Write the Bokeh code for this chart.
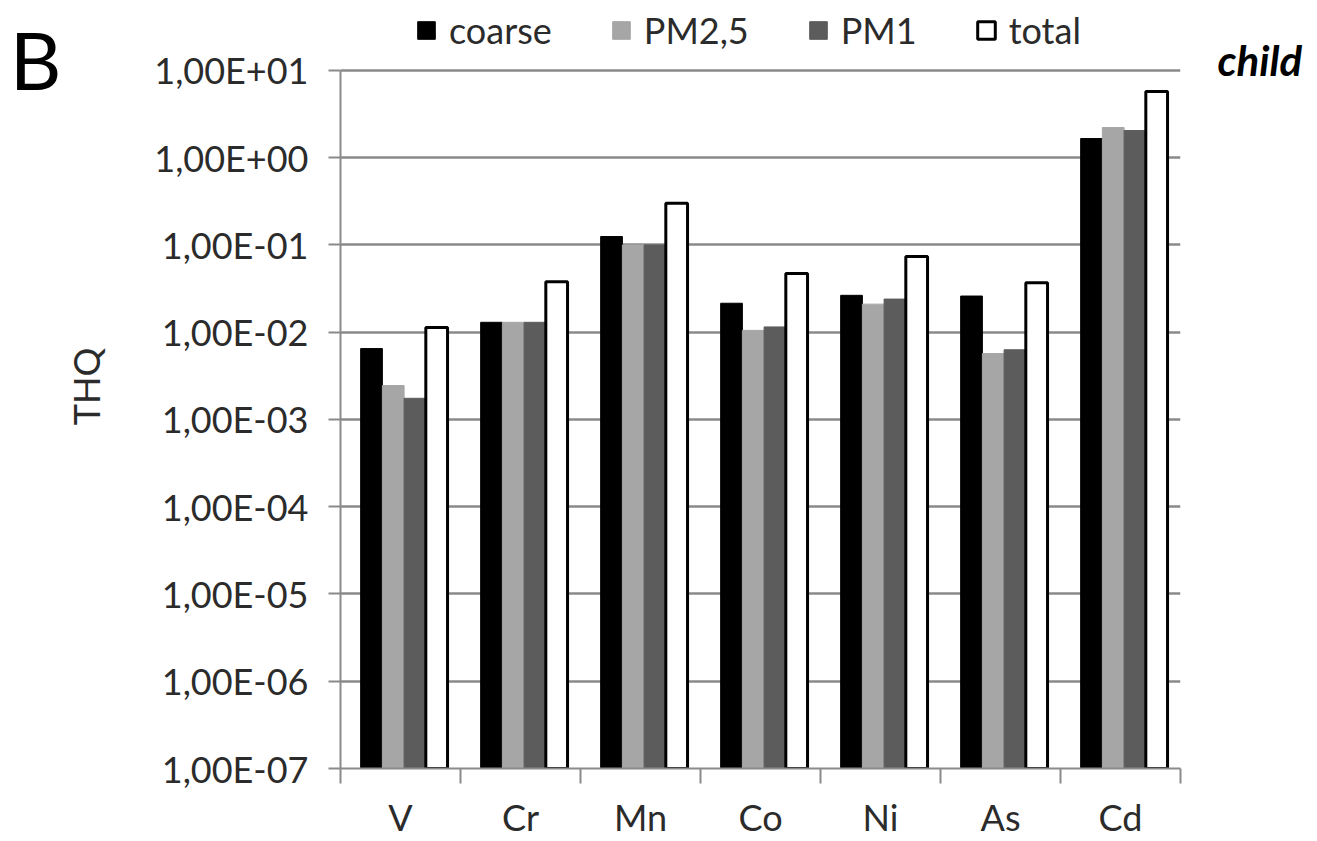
from bokeh.plotting import figure
from bokeh.models import (Range1d, FixedTicker, CustomJSTickFormatter, Legend,
                          LegendItem, ColumnDataSource, LinearAxis)
from bokeh.transform import dodge
from bokeh.embed import file_html
from bokeh.resources import INLINE

categories = ["V", "Cr", "Mn", "Co", "Ni", "As", "Cd"]
series_names = ["coarse", "PM2,5", "PM1", "total"]
coarse = [6.5e-3, 1.3e-2, 1.25e-1, 2.15e-2, 2.65e-2, 2.6e-2, 1.66]
pm25 = [2.45e-3, 1.3e-2, 1.0e-1, 1.05e-2, 2.1e-2, 5.7e-3, 2.22]
pm1 = [1.75e-3, 1.3e-2, 1.0e-1, 1.15e-2, 2.4e-2, 6.3e-3, 2.05]
total = [1.13e-2, 3.8e-2, 0.30, 4.7e-2, 7.4e-2, 3.7e-2, 5.75]
decades = [10.0 ** k for k in range(-7, 2)]
panel_letter = "B"
panel_note = "child"

FONT = "Lato"
AXIS_GREY = "#8a8a8a"
TEXT = "#2b2b2b"

# the frame reaches above the 1e1 gridline so that the legend row fits inside it
y_top = 57.07
p = figure(width=1317, height=841, y_axis_type="log",
           x_range=Range1d(0, len(categories)), y_range=Range1d(1e-7, y_top),
           output_backend="svg", toolbar_location=None,
           min_border_left=340, min_border_right=137,
           min_border_top=4, min_border_bottom=73)
p.outline_line_color = None
p.background_fill_color = "white"

bw = 0.181
center = 0.53
offsets = [-1.5 * bw, -0.5 * bw, 0.5 * bw, 1.5 * bw]
src = ColumnDataSource(dict(idx=list(range(len(categories))), coarse=coarse,
                            pm25=pm25, pm1=pm1, total=total))
styles = [("coarse", "black", "black", 1),
          ("pm25", "#a6a6a6", "#a6a6a6", 1),
          ("pm1", "#5c5c5c", "#5c5c5c", 1),
          ("total", "white", "black", 3)]
renderers = []
for (col, fc, lc, lw), off in zip(styles, offsets):
    r = p.vbar(x=dodge("idx", center + off), top=col, bottom=1e-7, width=bw,
               source=src, fill_color=fc, line_color=lc, line_width=lw)
    renderers.append(r)

# grid
p.xgrid.visible = False
p.ygrid.ticker = FixedTicker(ticks=decades)
p.ygrid.grid_line_color = AXIS_GREY
p.ygrid.grid_line_width = 2.5

# y axis
ya = p.yaxis[0]
ya.bounds = (decades[0], decades[-1])
ya.ticker = FixedTicker(ticks=decades, minor_ticks=[])
ya.formatter = CustomJSTickFormatter(code="""
const e = Math.round(Math.log10(tick));
const a = Math.abs(e);
return '1,00E' + (e < 0 ? '-' : '+') + (a < 10 ? '0' : '') + a;
""")
ya.axis_line_color = AXIS_GREY
ya.axis_line_width = 2
ya.major_tick_line_color = AXIS_GREY
ya.major_tick_line_width = 2
ya.major_tick_out = 12
ya.major_tick_in = 0
ya.major_label_standoff = 20
ya.major_label_text_font = FONT
ya.major_label_text_font_size = "36px"
ya.major_label_text_color = TEXT
ya.axis_label = "THQ"
ya.axis_label_text_font = FONT
ya.axis_label_text_font_size = "36px"
ya.axis_label_text_font_style = "normal"
ya.axis_label_text_color = TEXT
ya.axis_label_standoff = 43

# x axis
xa = p.xaxis[0]
xa.ticker = FixedTicker(ticks=[i + 0.5 for i in range(len(categories))],
                        minor_ticks=list(range(len(categories) + 1)))
xa.major_label_overrides = {i + 0.5: c for i, c in enumerate(categories)}
xa.axis_line_color = AXIS_GREY
xa.axis_line_width = 2
xa.major_tick_out = 0
xa.major_tick_in = 0
xa.minor_tick_out = 15
xa.minor_tick_in = 0
xa.minor_tick_line_color = AXIS_GREY
xa.minor_tick_line_width = 2
xa.major_label_standoff = 11
xa.major_label_text_font = FONT
xa.major_label_text_font_size = "36px"
xa.major_label_text_color = TEXT

# series legend (location = bottom-left corner, relative to frame bottom-left)
items = [LegendItem(label=n, renderers=[r]) for n, r in zip(series_names, renderers)]
legend = Legend(items=items, orientation="horizontal", location=(75, 716),
                glyph_width=22, glyph_height=22, label_width=10, label_standoff=12,
                spacing=58, padding=0, margin=0,
                label_text_font=FONT, label_text_font_size="36px", label_text_color=TEXT,
                border_line_color=None, background_fill_alpha=0)
p.add_layout(legend)

# panel letter (outer left) and note (right), drawn as single-label axes
def label_axis(txt, at, size, style, standoff):
    ax = LinearAxis(ticker=FixedTicker(ticks=[at], minor_ticks=[]),
                    major_label_overrides={at: txt},
                    axis_line_color=None, major_tick_line_color=None,
                    minor_tick_line_color=None, major_tick_out=0, major_tick_in=0,
                    major_label_standoff=standoff,
                    major_label_text_font=FONT, major_label_text_font_size=size,
                    major_label_text_font_style=style, major_label_text_color="black")
    return ax

p.add_layout(label_axis(panel_letter, 13.55, "80px", "normal", 0), "left")
p.add_layout(label_axis(panel_note, 13.2, "42px", "bold italic", 37), "right")

open("out.html", "w").write(file_html(p, INLINE))
